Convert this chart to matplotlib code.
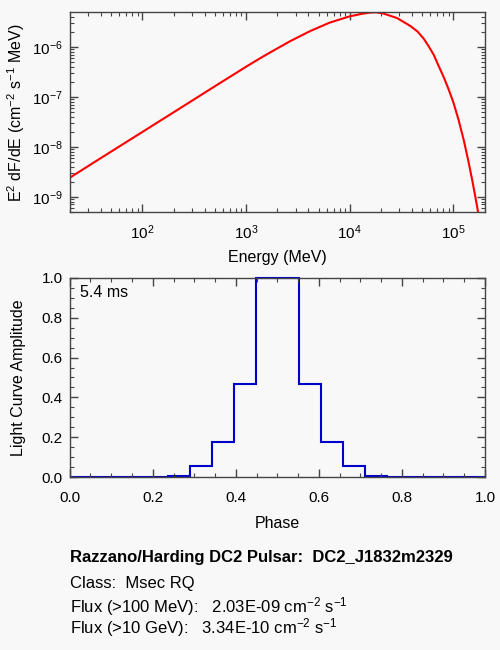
import numpy as np
import matplotlib
matplotlib.use('Agg')
import matplotlib.pyplot as plt
from matplotlib.ticker import LogLocator, NullFormatter, MultipleLocator, FormatStrFormatter

plt.rcParams['font.family'] = ['Liberation Sans', 'DejaVu Sans']
plt.rcParams['mathtext.fontset'] = 'custom'
plt.rcParams['mathtext.rm'] = 'Liberation Sans'
plt.rcParams['mathtext.it'] = 'Liberation Sans:italic'
plt.rcParams['mathtext.bf'] = 'Liberation Sans:bold'

# spectrum
energy_mev = [20, 38.9, 94.6, 230, 559, 702, 1092, 1358, 1702, 2650, 4125,
              6423, 10000, 13000, 15600, 18000, 21000, 24300, 28600, 38500,
              45000, 51700, 58000, 64600, 72000, 81000, 90000, 100000, 112500,
              126000, 139000, 152000, 163000, 173000, 176000]
e2dfde = [2.42e-9, 5.8e-9, 1.85e-8, 5.9e-8, 1.89e-7, 2.54e-7, 4.5e-7, 5.9e-7,
          7.75e-7, 1.3e-6, 2.07e-6, 3.08e-6, 4.11e-6, 4.6e-6, 4.88e-6, 4.95e-6,
          4.7e-6, 4.25e-6, 3.8e-6, 2.63e-6, 2.05e-6, 1.47e-6, 1.02e-6, 7.0e-7,
          4.2e-7, 2.45e-7, 1.42e-7, 7.8e-8, 3.42e-8, 1.36e-8, 5.4e-9, 2.16e-9,
          1.0e-9, 5.0e-10, 4.0e-10]

# light curve
phase_edges = [0.0, 0.2368, 0.2895, 0.3421, 0.3947, 0.4474, 0.5526,
               0.6053, 0.6579, 0.7105, 0.7632, 1.0]
amplitude = [0.0, 0.004, 0.059, 0.178, 0.467, 1.0, 0.467, 0.178, 0.059, 0.004, 0.0]

period_label = '5.4 ms'
title = 'Razzano/Harding DC2 Pulsar:  DC2_J1832m2329'
info_lines = ['Class:  Msec RQ',
              r'Flux (>100 MeV):   2.03E-09 cm$^{\mathregular{-2}}$ s$^{\mathregular{-1}}$',
              r'Flux (>10 GeV):   3.34E-10 cm$^{\mathregular{-2}}$ s$^{\mathregular{-1}}$']

bg = '#f8f8f8'
frame = '#444444'

fig = plt.figure(figsize=(5, 6.5), dpi=100, facecolor=bg)
ax1 = fig.add_axes([0.14, 0.6738, 0.83, 0.3072], facecolor=bg)
ax2 = fig.add_axes([0.1394, 0.2657, 0.8306, 0.3071], facecolor=bg)


def style(ax):
    for s in ax.spines.values():
        s.set_color(frame)
        s.set_linewidth(1.0)
    ax.tick_params(which='both', direction='in', top=True, right=True,
                   colors=frame, labelcolor='black', labelsize=11)
    ax.tick_params(which='major', length=5.8, width=1.0)
    ax.tick_params(which='minor', length=2.9, width=0.8)


ax1.plot(energy_mev, e2dfde, color='#ff0000', lw=1.5)
ax1.set_xscale('log')
ax1.set_yscale('log')
ax1.set_xlim(20, 2.02e5)
ax1.set_ylim(4.94e-10, 4.94e-6)
ax1.xaxis.set_major_locator(LogLocator(base=10, numticks=10))
ax1.xaxis.set_minor_locator(LogLocator(base=10, subs=np.arange(2, 10), numticks=20))
ax1.xaxis.set_minor_formatter(NullFormatter())
ax1.yaxis.set_minor_locator(LogLocator(base=10, subs=np.arange(2, 10), numticks=20))
ax1.yaxis.set_minor_formatter(NullFormatter())
style(ax1)
ax1.tick_params(axis='x', which='major', pad=8)
ax1.tick_params(axis='y', which='major', pad=5)
ax1.set_xlabel('Energy (MeV)', fontsize=11.5, labelpad=6)
ax1.set_ylabel(r'E$^{\mathregular{2}}$ dF/dE (cm$^{\mathregular{-2}}$ s$^{\mathregular{-1}}$ MeV)',
               fontsize=11.5, labelpad=4)

ax2.stairs(amplitude, phase_edges, baseline=None, color='#0000c8', lw=1.5, clip_on=False)
ax2.set_xlim(0, 1.0)
ax2.set_ylim(0, 1.0)
ax2.xaxis.set_major_locator(MultipleLocator(0.2))
ax2.xaxis.set_minor_locator(MultipleLocator(0.05))
ax2.yaxis.set_major_locator(MultipleLocator(0.2))
ax2.yaxis.set_minor_locator(MultipleLocator(0.05))
ax2.xaxis.set_major_formatter(FormatStrFormatter('%.1f'))
ax2.yaxis.set_major_formatter(FormatStrFormatter('%.1f'))
style(ax2)
ax2.tick_params(axis='x', which='major', pad=10)
ax2.tick_params(axis='y', which='major', pad=5)
ax2.set_xlabel('Phase', fontsize=11.5, labelpad=8)
ax2.set_ylabel('Light Curve Amplitude', fontsize=11.5, labelpad=11)
ax2.text(0.025, 0.905, period_label, transform=ax2.transAxes, fontsize=11.5,
         va='baseline', ha='left')

fig.text(0.14, 0.1349, title, fontsize=12, fontweight='bold', va='baseline')
for txt, yy in zip(info_lines, [0.0949, 0.0577, 0.0250]):
    fig.text(0.14, yy, txt, fontsize=12, va='baseline')

fig.savefig('out.png', dpi=100, facecolor=bg)
